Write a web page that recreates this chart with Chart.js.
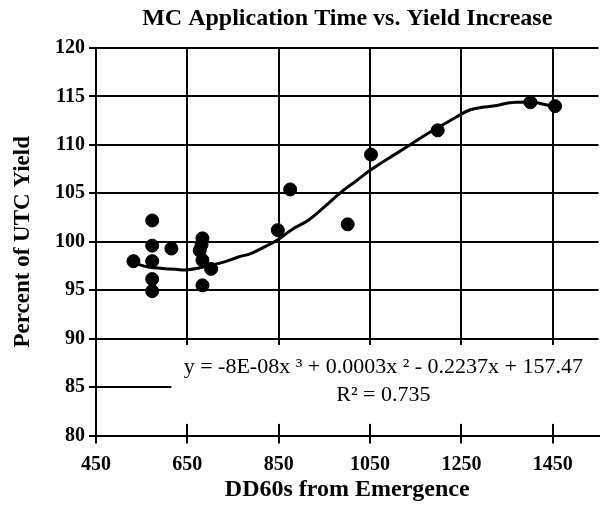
<!DOCTYPE html>
<html>
<head>
<meta charset="utf-8">
<script src="https://cdn.jsdelivr.net/npm/chart.js@4"></script>
<style>
  html, body { margin: 0; padding: 0; background: #fff; }
  #wrap { width: 606px; height: 512px; }
</style>
</head>
<body>
<div id="wrap"><canvas id="c" width="606" height="512"></canvas></div>
<script>
// ---- data ----
const titleText = 'MC Application Time vs. Yield Increase';
const xTitle = 'DD60s from Emergence';
const yTitle = 'Percent of UTC Yield';
const xTicks = [450, 650, 850, 1050, 1250, 1450];
const yTicks = [80, 85, 90, 95, 100, 105, 110, 115, 120];

const obsX = [532, 573, 573, 573, 573, 573, 615, 683, 681, 677, 683, 702, 683, 848, 875, 1001, 1052, 1198, 1401, 1455];
const obsY = [98.0, 102.2, 99.6, 98.0, 96.15, 94.9, 99.3, 100.35, 99.7, 99.1, 98.1, 97.2, 95.5, 101.2, 105.4, 101.8, 109.0, 111.5, 114.4, 114.0];

const trendX = [533, 565, 595, 625, 650, 676, 704, 733, 760, 790, 820, 848, 880, 914, 950, 986, 1020, 1051, 1090, 1131, 1170, 1203, 1240, 1268, 1300, 1330, 1355, 1380, 1401, 1430, 1455];
const trendY = [97.8, 97.4, 97.25, 97.15, 97.1, 97.3, 97.6, 97.95, 98.4, 98.8, 99.5, 100.2, 101.3, 102.2, 103.6, 105.1, 106.3, 107.4, 108.6, 109.8, 111.0, 111.9, 112.9, 113.6, 113.9, 114.1, 114.35, 114.4, 114.45, 114.2, 113.9];

const eqText = 'y = -8E-08x \u00B3 + 0.0003x \u00B2 - 0.2237x + 157.47';
const r2Text = 'R\u00B2 = 0.735';
// anchors of the trendline label (data units): centre x, line y's
const eqAnchor = { x: 1079, y: 87.1 };
const r2Anchor = { x: 1079, y: 84.2 };
const labelBox = { x0: 615, y0: 81.2, y1: 89.35 };

const SERIF = '"Liberation Serif", "Times New Roman", serif';

const labelPlugin = {
  id: 'trendLabel',
  beforeDatasetsDraw(chart) {
    const { ctx, scales: { x, y }, chartArea } = chart;
    ctx.save();
    ctx.fillStyle = '#fff';
    const l = x.getPixelForValue(labelBox.x0);
    const t = y.getPixelForValue(labelBox.y1);
    const b = y.getPixelForValue(labelBox.y0);
    ctx.fillRect(l, t, chartArea.right + 5 - l, b - t);
    ctx.restore();
  },
  afterDatasetsDraw(chart) {
    const { ctx, scales: { x, y } } = chart;
    ctx.save();
    ctx.fillStyle = '#000';
    ctx.font = '22px ' + SERIF;
    ctx.textBaseline = 'middle';
    ctx.textAlign = 'center';
    ctx.fillText(eqText, x.getPixelForValue(eqAnchor.x), y.getPixelForValue(eqAnchor.y));
    ctx.fillText(r2Text, x.getPixelForValue(r2Anchor.x), y.getPixelForValue(r2Anchor.y));
    ctx.restore();
  }
};

new Chart(document.getElementById('c'), {
  data: {
    datasets: [
      {
        type: 'line',
        data: trendX.map((v, i) => ({ x: v, y: trendY[i] })),
        borderColor: '#000',
        borderWidth: 3,
        pointRadius: 0,
        tension: 0.4,
        fill: false,
        order: 2
      },
      {
        type: 'scatter',
        data: obsX.map((v, i) => ({ x: v, y: obsY[i] })),
        backgroundColor: '#000',
        borderColor: '#000',
        pointRadius: 6.5,
        pointHoverRadius: 6.5,
        order: 1
      }
    ]
  },
  plugins: [labelPlugin],
  options: {
    responsive: false,
    animation: false,
    events: [],
    layout: { padding: { left: 0, right: 3, top: 0, bottom: 0 } },
    plugins: {
      legend: { display: false },
      tooltip: { enabled: false },
      title: {
        display: true,
        text: titleText,
        fullSize: false,
        color: '#000',
        font: { family: SERIF, size: 24, weight: 'bold' },
        padding: { top: 4, bottom: 15.2 }
      }
    },
    scales: {
      x: {
        type: 'linear',
        min: 450,
        max: 1550,
        afterBuildTicks: (s) => { s.ticks = xTicks.map(v => ({ value: v })); },
        afterFit: (s) => { s.height = 76.5; },
        ticks: {
          color: '#000',
          font: { family: SERIF, size: 20, weight: 'bold' },
          padding: 9,
          maxRotation: 0,
          autoSkip: false,
          callback: (v) => String(v)
        },
        grid: { color: '#000', lineWidth: 2, tickLength: 8 },
        border: { color: '#000', width: 2 },
        title: {
          display: true,
          text: xTitle,
          color: '#000',
          font: { family: SERIF, size: 24, weight: 'bold' },
          padding: { top: 0, bottom: 7.6 }
        }
      },
      y: {
        type: 'linear',
        min: 80,
        max: 120,
        afterBuildTicks: (s) => { s.ticks = yTicks.map(v => ({ value: v })); },
        afterFit: (s) => { s.width = 96; },
        ticks: {
          color: '#000',
          font: { family: SERIF, size: 20, weight: 'bold' },
          padding: 4,
          autoSkip: false
        },
        grid: { color: '#000', lineWidth: 2, tickLength: 7 },
        border: { color: '#000', width: 2 },
        title: {
          display: true,
          text: yTitle,
          color: '#000',
          font: { family: SERIF, size: 23, weight: 'bold' },
          padding: { top: 9, bottom: 0 }
        }
      }
    }
  }
});
</script>
</body>
</html>
